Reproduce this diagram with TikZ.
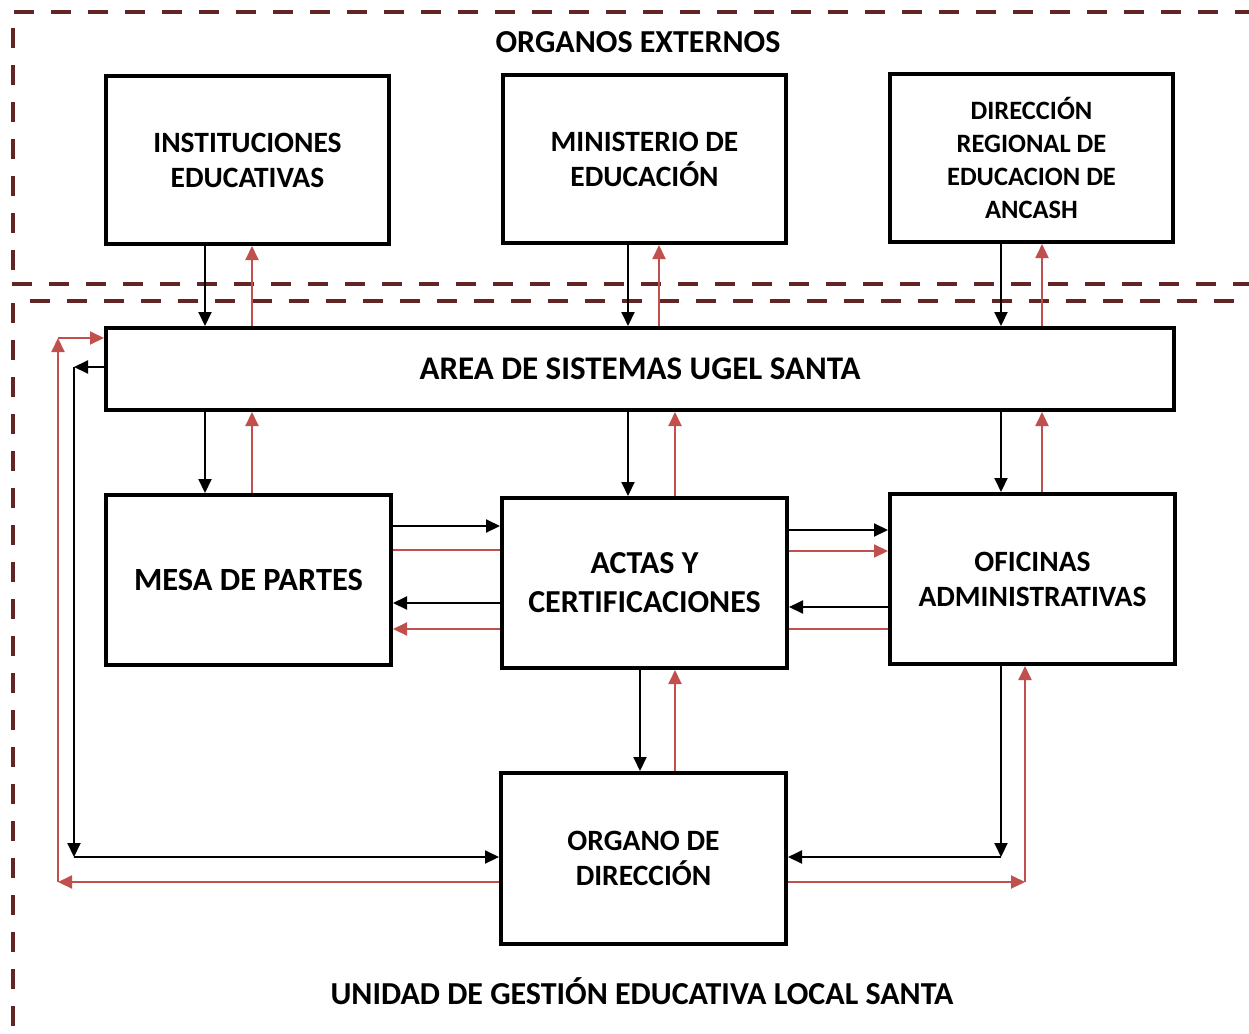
\documentclass[tikz,border=0pt]{standalone}
\usepackage{fontspec}
\setmainfont{Carlito}
\usetikzlibrary{arrows.meta}
\definecolor{borderred}{HTML}{632523}
\definecolor{arrred}{HTML}{C0504D}
\begin{document}
\begin{tikzpicture}[x=1pt,y=-1pt,
  box/.style={draw,line width=4pt,align=center,inner sep=0pt,font=\bfseries\fontsize{29.5}{35}\selectfont},
  blk/.style={line width=2pt,-{Triangle[length=14pt,width=13pt]}},
  rda/.style={draw=arrred,line width=2pt,-{Triangle[length=14pt,width=13pt]}},
  rdl/.style={draw=arrred,line width=2pt},
  border/.style={draw=borderred,line width=4pt,dash pattern=on 20pt off 17pt},
  title/.style={font=\bfseries\fontsize{32}{38}\selectfont}]
\useasboundingbox (0,0) rectangle (1249,1033);
% dashed frames
\draw[border] (13,270) -- (13,12) -- (1249,12);
\draw[border] (12,284) -- (1249,284);
\draw[border] (30,301) -- (1249,301);
\draw[border] (13,303) -- (13,1033);
% titles
\node[title] (t1) at (638,42) {ORGANOS EXTERNOS};
\node[title] (t2) at (642,991) {UNIDAD DE GESTIÓN EDUCATIVA LOCAL SANTA};
% boxes
\node[box,minimum width=283pt,minimum height=168pt] (inst) at (247.5,160) {INSTITUCIONES\\EDUCATIVAS};
\node[box,minimum width=283pt,minimum height=168pt] (min) at (644.5,159) {MINISTERIO DE\\EDUCACIÓN};
\node[box,minimum width=283pt,minimum height=168pt,font=\bfseries\fontsize{26.5}{33}\selectfont] (dir) at (1031.5,158) {DIRECCIÓN\\REGIONAL DE\\EDUCACION DE\\ANCASH};
\node[box,minimum width=1068pt,minimum height=82pt,font=\bfseries\fontsize{33}{38}\selectfont] (area) at (640,369) {AREA DE SISTEMAS UGEL SANTA};
\node[box,minimum width=285pt,minimum height=170pt,font=\bfseries\fontsize{32.4}{39}\selectfont] (mesa) at (248.5,580) {MESA DE PARTES};
\node[box,minimum width=285pt,minimum height=170pt,font=\bfseries\fontsize{32}{39}\selectfont] (actas) at (644.5,583) {ACTAS Y\\CERTIFICACIONES};
\node[box,minimum width=285pt,minimum height=170pt] (ofi) at (1032.5,579) {OFICINAS\\ADMINISTRATIVAS};
\node[box,minimum width=285pt,minimum height=171pt] (org) at (643.5,858.5) {ORGANO DE\\DIRECCIÓN};
% externos <-> area
\draw[blk] (205,0 |- inst.south) -- (205,0 |- area.north);
\draw[rda] (252,0 |- area.north) -- (252,0 |- inst.south);
\draw[blk] (628,0 |- min.south) -- (628,0 |- area.north);
\draw[rda] (659,0 |- area.north) -- (659,0 |- min.south);
\draw[blk] (1001,0 |- dir.south) -- (1001,0 |- area.north);
\draw[rda] (1042,0 |- area.north) -- (1042,0 |- dir.south);
% area <-> middle row
\draw[blk] (205,0 |- area.south) -- (205,0 |- mesa.north);
\draw[rda] (252,0 |- mesa.north) -- (252,0 |- area.south);
\draw[blk] (628,0 |- area.south) -- (628,0 |- actas.north);
\draw[rda] (675,0 |- actas.north) -- (675,0 |- area.south);
\draw[blk] (1001,0 |- area.south) -- (1001,0 |- ofi.north);
\draw[rda] (1042,0 |- ofi.north) -- (1042,0 |- area.south);
% mesa <-> actas
\draw[blk] (mesa.east |- 0,526) -- (actas.west |- 0,526);
\draw[rdl] (actas.west |- 0,550) -- (mesa.east |- 0,550);
\draw[blk] (actas.west |- 0,603) -- (mesa.east |- 0,603);
\draw[rda] (actas.west |- 0,629) -- (mesa.east |- 0,629);
% actas <-> oficinas
\draw[blk] (actas.east |- 0,530) -- (ofi.west |- 0,530);
\draw[rda] (actas.east |- 0,551) -- (ofi.west |- 0,551);
\draw[blk] (ofi.west |- 0,607) -- (actas.east |- 0,607);
\draw[rdl] (ofi.west |- 0,629) -- (actas.east |- 0,629);
% actas <-> organo
\draw[blk] (640,0 |- actas.south) -- (640,0 |- org.north);
\draw[rda] (675,0 |- org.north) -- (675,0 |- actas.south);
% oficinas <-> organo
\coordinate (c1) at (1001,857);
\coordinate (c2) at (1025,882);
\draw[blk] (1001,0 |- ofi.south) -- (c1);
\draw[blk] (c1) -- (org.east |- c1);
\draw[rda] (org.east |- c2) -- (c2);
\draw[rda] (c2) -- (1025,0 |- ofi.south);
% area <-> organo (left loop)
\coordinate (c3) at (74,367);
\coordinate (c4) at (74,857);
\coordinate (c5) at (58,882);
\coordinate (c6) at (58,338);
\draw[blk] (area.west |- c3) -- (c3);
\draw[blk] (c3) -- (c4);
\draw[blk] (c4) -- (org.west |- c4);
\draw[rda] (org.west |- c5) -- (c5);
\draw[rda] (c5) -- (c6);
\draw[rda] (c6) -- (area.west |- c6);
\end{tikzpicture}
\end{document}
